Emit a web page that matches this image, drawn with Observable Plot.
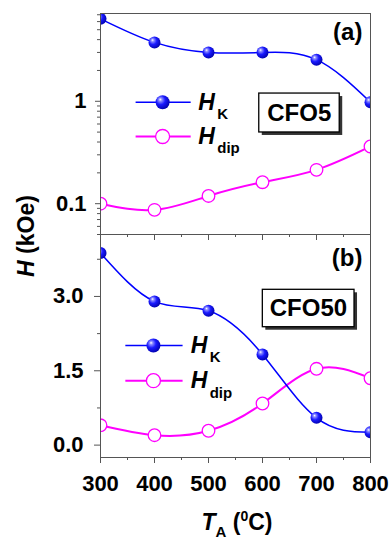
<!DOCTYPE html>
<html><head><meta charset="utf-8">
<script src="https://cdn.jsdelivr.net/npm/d3@7"></script>
<script src="https://cdn.jsdelivr.net/npm/@observablehq/plot@0.6"></script>
<style>
body{margin:0;background:#fff;}
#chart{position:relative;width:391px;height:540px;overflow:hidden;background:#fff;font-family:"Liberation Sans",Arial,sans-serif;}
#chart svg{position:absolute;left:0;}
</style></head><body><div id="chart"></div>
<script>
// ---- data ----
const TA = [300, 400, 500, 600, 700, 800];
const HK_a = [6.39, 3.76, 3.0, 3.0, 2.55, 0.98];
const Hdip_a = [0.100, 0.087, 0.119, 0.162, 0.214, 0.362];
const HK_b = [3.875, 2.90, 2.71, 1.83, 0.55, 0.26];
const Hdip_b = [0.40, 0.20, 0.29, 0.84, 1.54, 1.35];

const xMajor = [300, 400, 500, 600, 700, 800];
const xMinor = [350, 450, 550, 650, 750];
const yMajorA = [0.1, 1];
const yMajorALabels = ["0.1", "1"];
const yMinorA = [0.05,0.06,0.07,0.08,0.09,0.2,0.3,0.4,0.5,0.6,0.7,0.8,0.9,2,3,4,5,6,7];
const yMajorB = [0, 1.5, 3.0];
const yMajorBLabels = ["0.0", "1.5", "3.0"];
const yMinorB = [0.75, 2.25, 3.75];

const seriesNames = ["H", "H"];
const seriesSubs = ["K", "dip"];
const panelTags = ["(a)", "(b)"];
const sampleNames = ["CFO5", "CFO50"];

const BLUE = "#0000ff", MAG = "#ff00ff", AX = "#555";
const FONT = "'Liberation Sans', Arial, sans-serif";

const rows = (vals) => TA.map((t, i) => ({t, v: vals[i]}));
const chart = document.getElementById("chart");

// gradient for the "ball" markers
const defs = document.createElementNS("http://www.w3.org/2000/svg", "svg");
defs.setAttribute("width", 0); defs.setAttribute("height", 0);
defs.innerHTML = `<defs><radialGradient id="ball" cx="0.4" cy="0.4" r="0.65" fx="0.33" fy="0.3">
<stop offset="0" stop-color="#ffffff"/><stop offset="0.18" stop-color="#8c8cff"/>
<stop offset="0.5" stop-color="#1a1aff"/><stop offset="1" stop-color="#0000a8"/></radialGradient></defs>`;
chart.appendChild(defs);

function seriesMarks(hk, dip) {
  return [
    Plot.line(rows(dip), {x: "t", y: "v", stroke: MAG, strokeWidth: 2, curve: "natural", clip: true}),
    Plot.line(rows(hk), {x: "t", y: "v", stroke: BLUE, strokeWidth: 1.5, curve: "natural", clip: true}),
    Plot.dot(rows(dip), {x: "t", y: "v", r: 6.3, fill: "white", stroke: MAG, strokeWidth: 1.3, clip: true}),
    Plot.dot(rows(hk), {x: "t", y: "v", r: 6, fill: "url(#ball)", stroke: "none", clip: true})
  ];
}

function legendMarks(xl1, xl2, xm, xt, y1, y2) {
  return [
    Plot.link([0], {x1: xl1, x2: xl2, y1: y1, y2: y1, stroke: BLUE, strokeWidth: 1.5}),
    Plot.dot([0], {x: xm, y: y1, r: 7, fill: "url(#ball)", stroke: "none"}),
    Plot.link([0], {x1: xl1, x2: xl2, y1: y2, y2: y2, stroke: MAG, strokeWidth: 2}),
    Plot.dot([0], {x: xm, y: y2, r: 7, fill: "white", stroke: MAG, strokeWidth: 1.3}),
    Plot.text([seriesNames[0]], {x: xt, y: y1, text: d => d, textAnchor: "start", fontSize: 23, fontWeight: "bold", fontStyle: "italic", fill: "black"}),
    Plot.text([seriesSubs[0]], {x: xt, y: y1, text: d => d, textAnchor: "start", dx: 19, dy: 12, fontSize: 15, fontWeight: "bold", fill: "black"}),
    Plot.text([seriesNames[1]], {x: xt, y: y2, text: d => d, textAnchor: "start", fontSize: 23, fontWeight: "bold", fontStyle: "italic", fill: "black"}),
    Plot.text([seriesSubs[1]], {x: xt, y: y2, text: d => d, textAnchor: "start", dx: 19, dy: 12, fontSize: 15, fontWeight: "bold", fill: "black"})
  ];
}

function boxMarks(name, x1, x2, y1, y2, xc, yc) {
  return [
    Plot.rect([0], {x1, x2, y1, y2, fill: "#333", dx: 3, dy: 3}),
    Plot.rect([0], {x1, x2, y1, y2, fill: "white", stroke: "black", strokeWidth: 1.3}),
    Plot.text([name], {x: xc, y: yc, text: d => d, fontSize: 24, fontWeight: "bold", fill: "black"})
  ];
}

// ---- panel (a): log scale ----
const plotA = Plot.plot({
  width: 391, height: 240,
  marginLeft: 100, marginRight: 21, marginTop: 13, marginBottom: 6,
  style: {fontFamily: FONT, background: "transparent", overflow: "visible"},
  x: {domain: [300, 800]},
  y: {type: "log", domain: [0.05, 7.2]},
  marks: [
    Plot.axisY(yMajorA, {tickSize: 5, tickPadding: 9, tickFormat: (d, i) => yMajorALabels[yMajorA.indexOf(d)], fontSize: 22, fontWeight: "bold", fill: "black", stroke: AX, label: null}),
    Plot.axisY(yMinorA, {tickSize: 3, tickFormat: () => "", stroke: AX, label: null}),
    Plot.axisX(xMajor, {tickSize: 6, tickFormat: () => "", stroke: AX, label: null}),
    Plot.axisX(xMinor, {tickSize: 3, tickFormat: () => "", stroke: AX, label: null}),
    ...seriesMarks(HK_a, Hdip_a),
    ...legendMarks(365, 467, 415, 481, 0.98, 0.453),
    ...boxMarks(sampleNames[0], 594, 743, 0.496, 1.19, 668, 0.77),
    Plot.text([panelTags[0]], {x: 785, y: 4.7, text: d => d, textAnchor: "end", fontSize: 24, fontWeight: "bold", fill: "black"}),
    Plot.frame({stroke: AX})
  ]
});
plotA.style.top = "0px";
chart.appendChild(plotA);

// ---- panel (b): linear scale ----
const plotB = Plot.plot({
  width: 391, height: 312,
  marginLeft: 100, marginRight: 21, marginTop: 6, marginBottom: 83,
  style: {fontFamily: FONT, background: "transparent", overflow: "visible"},
  x: {domain: [300, 800]},
  y: {domain: [-0.25, 4.25]},
  marks: [
    Plot.axisY(yMajorB, {tickSize: 6, tickPadding: 11, tickFormat: d => yMajorBLabels[yMajorB.indexOf(d)], fontSize: 22, fontWeight: "bold", fill: "black", stroke: AX, label: null}),
    Plot.axisY(yMinorB, {tickSize: 3, tickFormat: () => "", stroke: AX, label: null}),
    Plot.axisX(xMajor, {tickSize: 6, tickPadding: 12, tickFormat: d => String(d), fontSize: 22, fontWeight: "bold", fill: "black", stroke: AX, label: null}),
    Plot.axisX(xMinor, {tickSize: 3, tickFormat: () => "", stroke: AX, label: null}),
    ...seriesMarks(HK_b, Hdip_b),
    ...legendMarks(346, 452, 398, 467, 2.01, 1.30),
    ...boxMarks(sampleNames[1], 600.6, 770.4, 2.379, 3.134, 685, 2.756),
    Plot.text([panelTags[1]], {x: 785, y: 3.765, text: d => d, textAnchor: "end", fontSize: 24, fontWeight: "bold", fill: "black"}),
    Plot.frame({stroke: AX})
  ]
});
plotB.style.top = "228px";
chart.appendChild(plotB);

// ---- axis titles ----
const titles = document.createElementNS("http://www.w3.org/2000/svg", "svg");
titles.setAttribute("width", 391); titles.setAttribute("height", 540);
titles.style.top = "0px";
titles.style.pointerEvents = "none";
titles.innerHTML = `
<text transform="translate(34,236) rotate(-90)" text-anchor="middle" font-family="${FONT}" font-size="23" font-weight="bold" fill="black"><tspan font-style="italic">H</tspan> (kOe)</text>
<text x="237" y="530" text-anchor="middle" font-family="${FONT}" font-size="23" font-weight="bold" fill="black"><tspan font-style="italic">T</tspan><tspan font-size="15" dy="7">A</tspan><tspan dy="-7"> (</tspan><tspan font-size="14" dy="-9">0</tspan><tspan dy="9">C)</tspan></text>`;
chart.appendChild(titles);
</script></body></html>
